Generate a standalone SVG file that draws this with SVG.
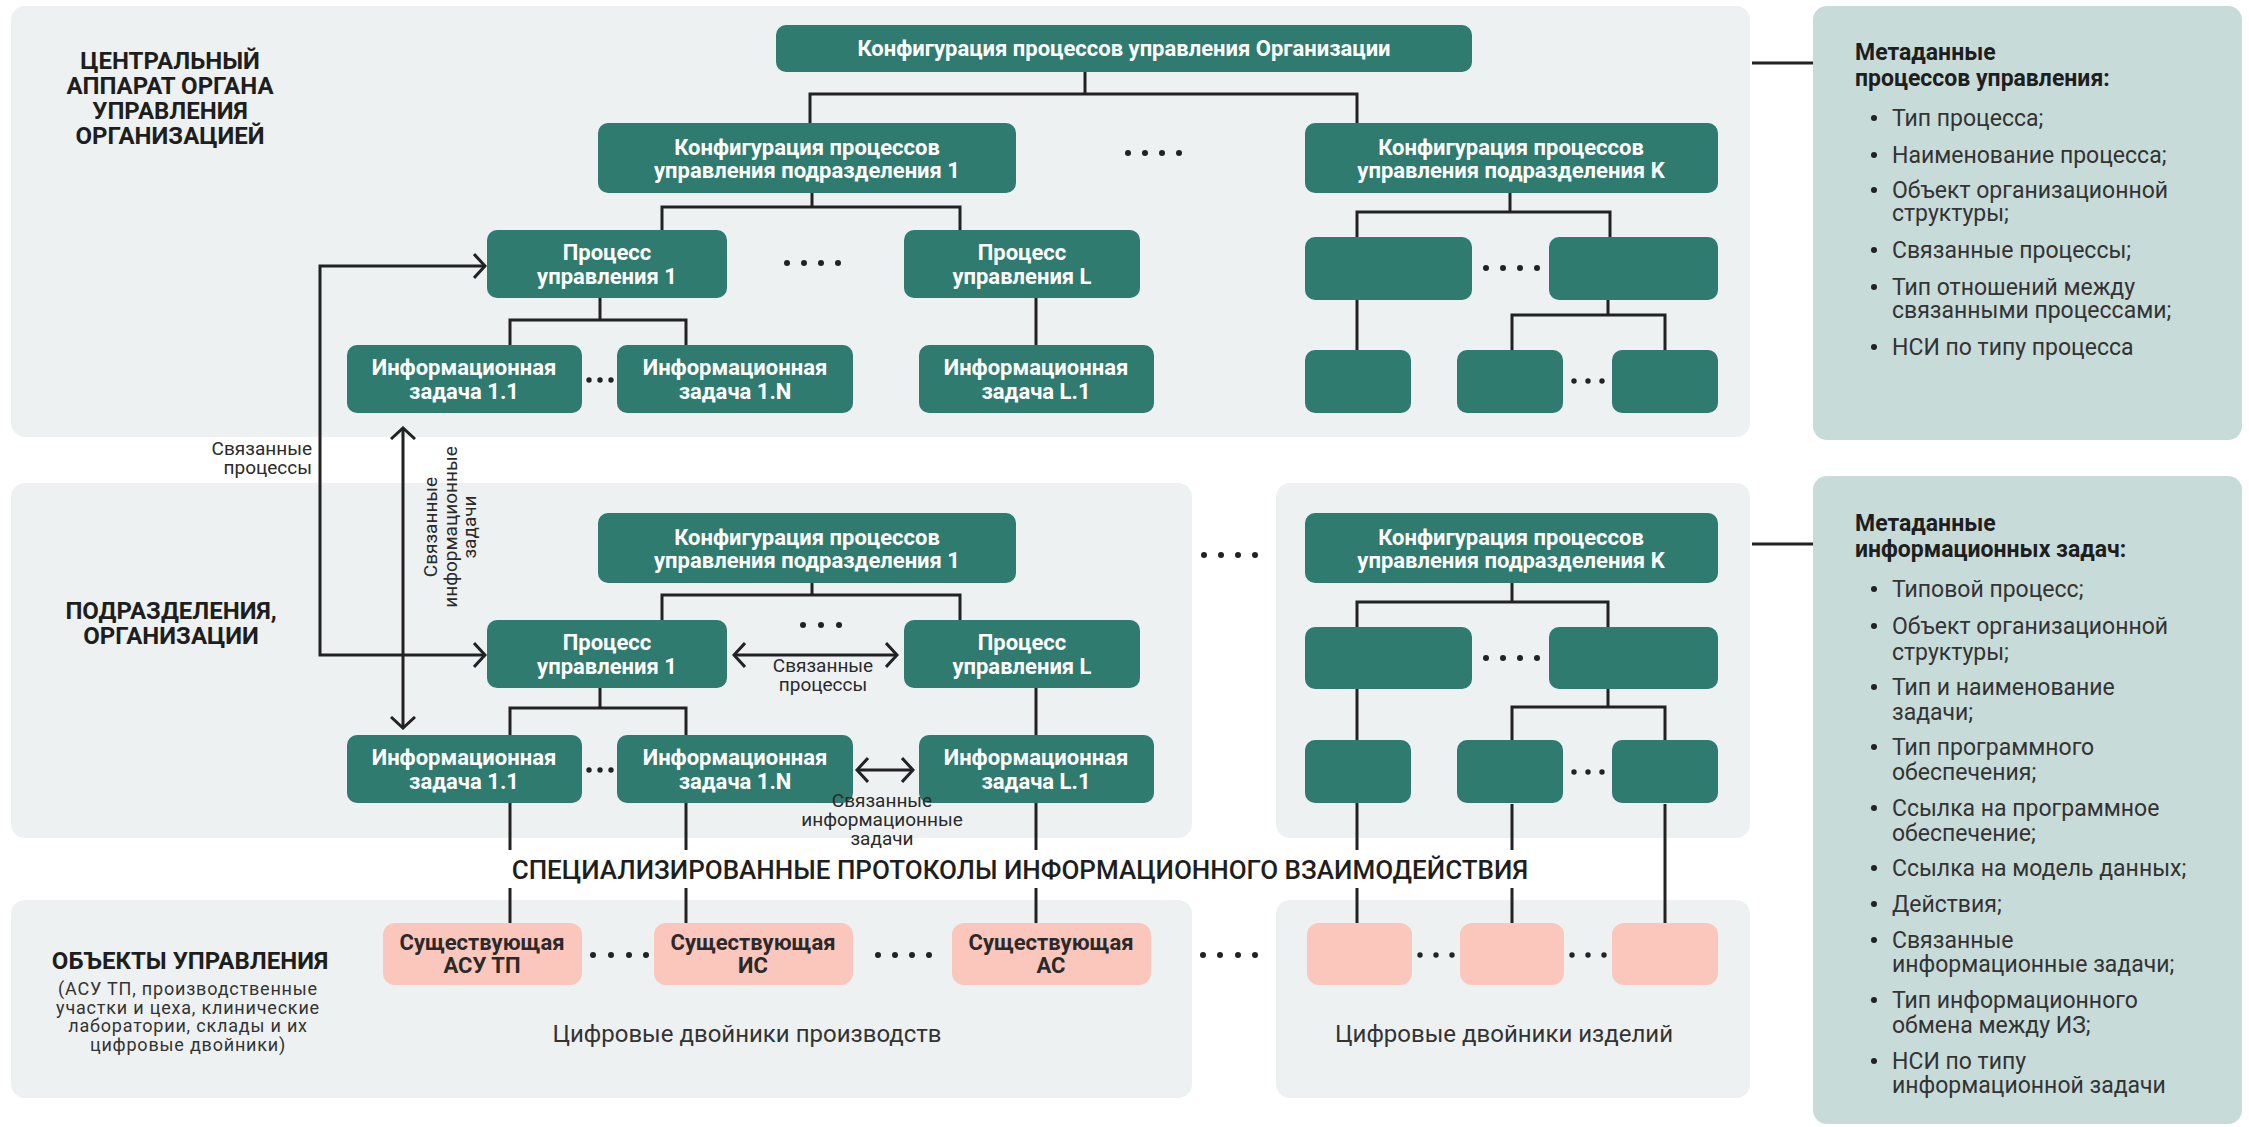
<svg xmlns="http://www.w3.org/2000/svg" width="2249" height="1127" viewBox="0 0 2249 1127">
  <defs>
    <style>
      .panel { fill: #edf1f2; }
      .meta { fill: #c7dbd9; }
      .node { fill: #2f7b70; }
      .pink { fill: #fbc6bc; }
      .ln { fill: none; stroke: #222; stroke-width: 3; }
      .arr { fill: none; stroke: #222; stroke-width: 3; marker-start: url(#chev); marker-end: url(#chev); }
      .dot { fill: #222; }
      text { font-family: Roboto, "Liberation Sans", "Noto Sans", sans-serif; }
      .nt { font-size: 22px; font-weight: bold; fill: #ffffff; text-anchor: middle; }
      .pt { font-size: 22px; font-weight: bold; fill: #2a2a2a; text-anchor: middle; }
      .sec { font-size: 24px; font-weight: bold; fill: #1e1e1e; text-anchor: middle; }
      .sub { font-size: 18px; letter-spacing: 0.8px; fill: #333; text-anchor: middle; }
      .lbl { font-size: 19px; fill: #2a2a2a; }
      .big { font-size: 26px; font-weight: 500; fill: #1e1e1e; text-anchor: middle; }
      .tw { font-size: 24px; fill: #333; text-anchor: middle; }
      .mh { font-size: 23px; font-weight: bold; fill: #1e1e1e; }
      .mi { font-size: 23px; fill: #333; }
    </style>
    <marker id="chev" viewBox="0 0 14 26" refX="12" refY="13" markerWidth="14" markerHeight="26" markerUnits="userSpaceOnUse" orient="auto-start-reverse">
      <path d="M1 1 L12 13 L1 25" fill="none" stroke="#222" stroke-width="3"/>
    </marker>
  </defs>

  <rect width="2249" height="1127" fill="#ffffff"/>

  <!-- background panels -->
  <g id="panels">
    <rect class="panel" x="11" y="6" width="1739" height="431" rx="14"/>
    <rect class="panel" x="11" y="483" width="1181" height="355" rx="14"/>
    <rect class="panel" x="1276" y="483" width="474" height="355" rx="14"/>
    <rect class="panel" x="11" y="900" width="1181" height="198" rx="14"/>
    <rect class="panel" x="1276" y="900" width="474" height="198" rx="14"/>
  </g>

  <!-- section captions -->
  <g id="captions">
    <text class="sec"><tspan x="170" y="69">ЦЕНТРАЛЬНЫЙ</tspan><tspan x="170" y="94">АППАРАТ ОРГАНА</tspan><tspan x="170" y="119">УПРАВЛЕНИЯ</tspan><tspan x="170" y="144">ОРГАНИЗАЦИЕЙ</tspan></text>
    <text class="sec"><tspan x="171" y="619">ПОДРАЗДЕЛЕНИЯ,</tspan><tspan x="171" y="644">ОРГАНИЗАЦИИ</tspan></text>
    <text class="sec" x="190" y="969">ОБЪЕКТЫ УПРАВЛЕНИЯ</text>
    <text class="sub"><tspan x="188" y="995">(АСУ ТП, производственные</tspan><tspan x="188" y="1013.5">участки и цеха, клинические</tspan><tspan x="188" y="1032">лаборатории, склады и их</tspan><tspan x="188" y="1050.5">цифровые двойники)</tspan></text>
    <text class="big" x="1020" y="879">СПЕЦИАЛИЗИРОВАННЫЕ ПРОТОКОЛЫ ИНФОРМАЦИОННОГО ВЗАИМОДЕЙСТВИЯ</text>
    <text class="tw" x="747" y="1042">Цифровые двойники производств</text>
    <text class="tw" x="1504" y="1042">Цифровые двойники изделий</text>
  </g>

  <!-- connectors -->
  <g id="connectors">
    <!-- central office tree -->
    <path class="ln" d="M1085 72 V94 M810 123 V94 H1357 V123"/>
    <path class="ln" d="M812 193 V207 M662 230 V207 H960 V230"/>
    <path class="ln" d="M600 298 V320 M510 345 V320 H686 V345"/>
    <path class="ln" d="M1036 298 V345"/>
    <path class="ln" d="M1510 193 V212 M1357 237 V212 H1610 V237"/>
    <path class="ln" d="M1357 300 V350"/>
    <path class="ln" d="M1608 300 V315 M1512 350 V315 H1665 V350"/>
    <!-- subdivision tree -->
    <path class="ln" d="M812 583 V595 M662 620 V595 H960 V620"/>
    <path class="ln" d="M600 688 V708 M510 735 V708 H686 V735"/>
    <path class="ln" d="M1036 688 V735"/>
    <path class="ln" d="M1512 583 V602 M1357 627 V602 H1608 V627"/>
    <path class="ln" d="M1357 689 V740"/>
    <path class="ln" d="M1608 689 V707 M1512 740 V707 H1665 V740"/>
    <!-- protocol links to control objects -->
    <path class="ln" d="M510 803 V850 M510 888 V923"/>
    <path class="ln" d="M686 803 V850 M686 888 V923"/>
    <path class="ln" d="M1036 803 V850 M1036 888 V923"/>
    <path class="ln" d="M1357 803 V850 M1357 888 V923"/>
    <path class="ln" d="M1512 804 V850 M1512 888 V923"/>
    <path class="ln" d="M1665 804 V923"/>
    <!-- metadata links -->
    <path class="ln" d="M1752 63 H1813"/>
    <path class="ln" d="M1752 544 H1813"/>
    <!-- related processes / tasks -->
    <path class="arr" d="M485 266 H320 V655 H485"/>
    <path class="arr" d="M403 428 V728"/>
    <path class="arr" d="M734 655 H897"/>
    <path class="arr" d="M857 770 H913"/>
  </g>

  <!-- central office nodes -->
  <g id="org-config"><rect class="node" x="776" y="25" width="696" height="47" rx="10"/><text class="nt" x="1124" y="56">Конфигурация процессов управления Организации</text></g>
  <g id="top-sub1"><rect class="node" x="598" y="123" width="418" height="70" rx="10"/><text class="nt"><tspan x="807" y="155">Конфигурация процессов</tspan><tspan x="807" y="178">управления подразделения 1</tspan></text></g>
  <g id="top-subK"><rect class="node" x="1305" y="123" width="413" height="70" rx="10"/><text class="nt"><tspan x="1511" y="155">Конфигурация процессов</tspan><tspan x="1511" y="178">управления подразделения K</tspan></text></g>
  <g id="top-p1"><rect class="node" x="487" y="230" width="240" height="68" rx="10"/><text class="nt"><tspan x="607" y="260">Процесс</tspan><tspan x="607" y="284">управления 1</tspan></text></g>
  <g id="top-pL"><rect class="node" x="904" y="230" width="236" height="68" rx="10"/><text class="nt"><tspan x="1022" y="260">Процесс</tspan><tspan x="1022" y="284">управления L</tspan></text></g>
  <g id="top-iz11"><rect class="node" x="347" y="345" width="235" height="68" rx="10"/><text class="nt"><tspan x="464" y="375">Информационная</tspan><tspan x="464" y="399">задача 1.1</tspan></text></g>
  <g id="top-iz1N"><rect class="node" x="617" y="345" width="236" height="68" rx="10"/><text class="nt"><tspan x="735" y="375">Информационная</tspan><tspan x="735" y="399">задача 1.N</tspan></text></g>
  <g id="top-izL1"><rect class="node" x="919" y="345" width="235" height="68" rx="10"/><text class="nt"><tspan x="1036" y="375">Информационная</tspan><tspan x="1036" y="399">задача L.1</tspan></text></g>
  <g id="top-kA"><rect class="node" x="1305" y="237" width="167" height="63" rx="10"/></g>
  <g id="top-kB"><rect class="node" x="1549" y="237" width="169" height="63" rx="10"/></g>
  <g id="top-kC"><rect class="node" x="1305" y="350" width="106" height="63" rx="10"/></g>
  <g id="top-kD"><rect class="node" x="1457" y="350" width="106" height="63" rx="10"/></g>
  <g id="top-kE"><rect class="node" x="1612" y="350" width="106" height="63" rx="10"/></g>

  <!-- subdivision nodes -->
  <g id="mid-sub1"><rect class="node" x="598" y="513" width="418" height="70" rx="10"/><text class="nt"><tspan x="807" y="545">Конфигурация процессов</tspan><tspan x="807" y="568">управления подразделения 1</tspan></text></g>
  <g id="mid-subK"><rect class="node" x="1305" y="513" width="413" height="70" rx="10"/><text class="nt"><tspan x="1511" y="545">Конфигурация процессов</tspan><tspan x="1511" y="568">управления подразделения K</tspan></text></g>
  <g id="mid-p1"><rect class="node" x="487" y="620" width="240" height="68" rx="10"/><text class="nt"><tspan x="607" y="650">Процесс</tspan><tspan x="607" y="674">управления 1</tspan></text></g>
  <g id="mid-pL"><rect class="node" x="904" y="620" width="236" height="68" rx="10"/><text class="nt"><tspan x="1022" y="650">Процесс</tspan><tspan x="1022" y="674">управления L</tspan></text></g>
  <g id="mid-iz11"><rect class="node" x="347" y="735" width="235" height="68" rx="10"/><text class="nt"><tspan x="464" y="765">Информационная</tspan><tspan x="464" y="789">задача 1.1</tspan></text></g>
  <g id="mid-iz1N"><rect class="node" x="617" y="735" width="236" height="68" rx="10"/><text class="nt"><tspan x="735" y="765">Информационная</tspan><tspan x="735" y="789">задача 1.N</tspan></text></g>
  <g id="mid-izL1"><rect class="node" x="919" y="735" width="235" height="68" rx="10"/><text class="nt"><tspan x="1036" y="765">Информационная</tspan><tspan x="1036" y="789">задача L.1</tspan></text></g>
  <g id="mid-kA"><rect class="node" x="1305" y="627" width="167" height="62" rx="10"/></g>
  <g id="mid-kB"><rect class="node" x="1549" y="627" width="169" height="62" rx="10"/></g>
  <g id="mid-kC"><rect class="node" x="1305" y="740" width="106" height="63" rx="10"/></g>
  <g id="mid-kD"><rect class="node" x="1457" y="740" width="106" height="63" rx="10"/></g>
  <g id="mid-kE"><rect class="node" x="1612" y="740" width="106" height="63" rx="10"/></g>

  <!-- control objects -->
  <g id="obj-asutp"><rect class="pink" x="383" y="923" width="199" height="62" rx="12"/><text class="pt"><tspan x="482" y="950">Существующая</tspan><tspan x="482" y="973">АСУ ТП</tspan></text></g>
  <g id="obj-is"><rect class="pink" x="654" y="923" width="199" height="62" rx="12"/><text class="pt"><tspan x="753" y="950">Существующая</tspan><tspan x="753" y="973">ИС</tspan></text></g>
  <g id="obj-as"><rect class="pink" x="952" y="923" width="199" height="62" rx="12"/><text class="pt"><tspan x="1051" y="950">Существующая</tspan><tspan x="1051" y="973">АС</tspan></text></g>
  <g id="obj-k1"><rect class="pink" x="1307" y="923" width="105" height="62" rx="12"/></g>
  <g id="obj-k2"><rect class="pink" x="1460" y="923" width="104" height="62" rx="12"/></g>
  <g id="obj-k3"><rect class="pink" x="1612" y="923" width="106" height="62" rx="12"/></g>

  <!-- ellipsis dots -->
  <g id="ellipses" class="dot">
    <circle cx="1128" cy="153" r="3"/><circle cx="1145" cy="153" r="3"/><circle cx="1162" cy="153" r="3"/><circle cx="1179" cy="153" r="3"/>
    <circle cx="787" cy="263" r="3"/><circle cx="804" cy="263" r="3"/><circle cx="821" cy="263" r="3"/><circle cx="838" cy="263" r="3"/>
    <circle cx="589" cy="380" r="2.7"/><circle cx="600" cy="380" r="2.7"/><circle cx="611" cy="380" r="2.7"/>
    <circle cx="1486" cy="268" r="3"/><circle cx="1503" cy="268" r="3"/><circle cx="1520" cy="268" r="3"/><circle cx="1537" cy="268" r="3"/>
    <circle cx="1574" cy="381" r="2.7"/><circle cx="1588" cy="381" r="2.7"/><circle cx="1602" cy="381" r="2.7"/>
    <circle cx="803" cy="625" r="3"/><circle cx="821" cy="625" r="3"/><circle cx="839" cy="625" r="3"/>
    <circle cx="589" cy="770" r="2.7"/><circle cx="600" cy="770" r="2.7"/><circle cx="611" cy="770" r="2.7"/>
    <circle cx="1204" cy="555" r="3"/><circle cx="1221" cy="555" r="3"/><circle cx="1238" cy="555" r="3"/><circle cx="1255" cy="555" r="3"/>
    <circle cx="1486" cy="658" r="3"/><circle cx="1503" cy="658" r="3"/><circle cx="1520" cy="658" r="3"/><circle cx="1537" cy="658" r="3"/>
    <circle cx="1574" cy="772" r="2.7"/><circle cx="1588" cy="772" r="2.7"/><circle cx="1602" cy="772" r="2.7"/>
    <circle cx="593" cy="955" r="3"/><circle cx="611" cy="955" r="3"/><circle cx="629" cy="955" r="3"/><circle cx="646" cy="955" r="3"/>
    <circle cx="878" cy="955" r="3"/><circle cx="895" cy="955" r="3"/><circle cx="912" cy="955" r="3"/><circle cx="929" cy="955" r="3"/>
    <circle cx="1203" cy="955" r="3"/><circle cx="1220" cy="955" r="3"/><circle cx="1238" cy="955" r="3"/><circle cx="1255" cy="955" r="3"/>
    <circle cx="1420" cy="955" r="2.7"/><circle cx="1436" cy="955" r="2.7"/><circle cx="1452" cy="955" r="2.7"/>
    <circle cx="1572" cy="955" r="2.7"/><circle cx="1588" cy="955" r="2.7"/><circle cx="1604" cy="955" r="2.7"/>
  </g>

  <!-- connector labels -->
  <g id="connector-labels">
    <text class="lbl" text-anchor="end"><tspan x="312" y="455">Связанные</tspan><tspan x="312" y="474">процессы</tspan></text>
    <text class="lbl" text-anchor="middle" transform="translate(437 527) rotate(-90)"><tspan x="0" y="0">Связанные</tspan><tspan x="0" y="20">информационные</tspan><tspan x="0" y="39">задачи</tspan></text>
    <text class="lbl" text-anchor="middle"><tspan x="823" y="672">Связанные</tspan><tspan x="823" y="691">процессы</tspan></text>
    <text class="lbl" text-anchor="middle"><tspan x="882" y="807">Связанные</tspan><tspan x="882" y="826">информационные</tspan><tspan x="882" y="845">задачи</tspan></text>
  </g>

  <!-- metadata: management processes -->
  <g id="meta-processes">
    <rect class="meta" x="1813" y="6" width="429" height="434" rx="14"/>
    <text class="mh"><tspan x="1855" y="60">Метаданные</tspan><tspan x="1855" y="86">процессов управления:</tspan></text>
    <g class="dot">
      <circle cx="1874" cy="118" r="3"/><circle cx="1874" cy="155" r="3"/><circle cx="1874" cy="190" r="3"/>
      <circle cx="1874" cy="250" r="3"/><circle cx="1874" cy="287" r="3"/><circle cx="1874" cy="347" r="3"/>
    </g>
    <text class="mi">
      <tspan x="1892" y="126">Тип процесса;</tspan>
      <tspan x="1892" y="163">Наименование процесса;</tspan>
      <tspan x="1892" y="198">Объект организационной</tspan>
      <tspan x="1892" y="221">структуры;</tspan>
      <tspan x="1892" y="258">Связанные процессы;</tspan>
      <tspan x="1892" y="295">Тип отношений между</tspan>
      <tspan x="1892" y="318">связанными процессами;</tspan>
      <tspan x="1892" y="355">НСИ по типу процесса</tspan>
    </text>
  </g>

  <!-- metadata: information tasks -->
  <g id="meta-tasks">
    <rect class="meta" x="1813" y="476" width="429" height="648" rx="14"/>
    <text class="mh"><tspan x="1855" y="531">Метаданные</tspan><tspan x="1855" y="557">информационных задач:</tspan></text>
    <g class="dot">
      <circle cx="1874" cy="589" r="3"/><circle cx="1874" cy="626" r="3"/><circle cx="1874" cy="687" r="3"/>
      <circle cx="1874" cy="747" r="3"/><circle cx="1874" cy="808" r="3"/><circle cx="1874" cy="868" r="3"/>
      <circle cx="1874" cy="904" r="3"/><circle cx="1874" cy="940" r="3"/><circle cx="1874" cy="1000" r="3"/>
      <circle cx="1874" cy="1061" r="3"/>
    </g>
    <text class="mi">
      <tspan x="1892" y="597">Типовой процесс;</tspan>
      <tspan x="1892" y="634">Объект организационной</tspan>
      <tspan x="1892" y="660">структуры;</tspan>
      <tspan x="1892" y="695">Тип и наименование</tspan>
      <tspan x="1892" y="720">задачи;</tspan>
      <tspan x="1892" y="755">Тип программного</tspan>
      <tspan x="1892" y="780">обеспечения;</tspan>
      <tspan x="1892" y="816">Ссылка на программное</tspan>
      <tspan x="1892" y="841">обеспечение;</tspan>
      <tspan x="1892" y="876">Ссылка на модель данных;</tspan>
      <tspan x="1892" y="912">Действия;</tspan>
      <tspan x="1892" y="948">Связанные</tspan>
      <tspan x="1892" y="972">информационные задачи;</tspan>
      <tspan x="1892" y="1008">Тип информационного</tspan>
      <tspan x="1892" y="1033">обмена между ИЗ;</tspan>
      <tspan x="1892" y="1069">НСИ по типу</tspan>
      <tspan x="1892" y="1093">информационной задачи</tspan>
    </text>
  </g>
</svg>
